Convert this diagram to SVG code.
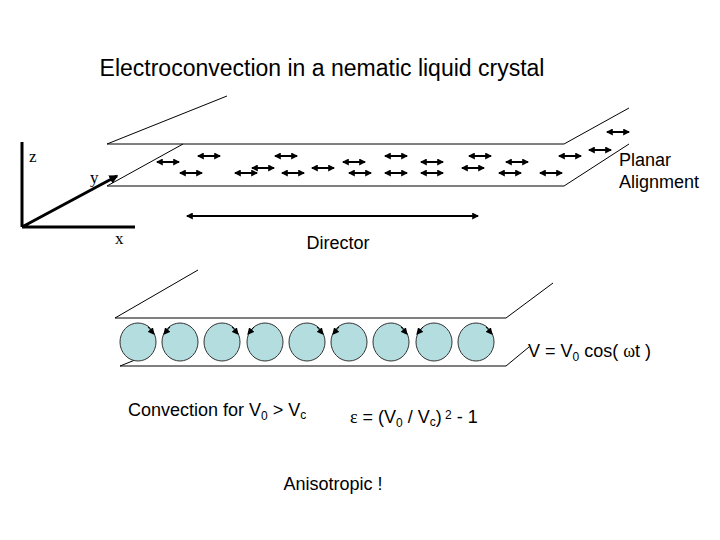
<svg xmlns="http://www.w3.org/2000/svg" width="720" height="540" viewBox="0 0 720 540">
<style>
.l{stroke:#000;stroke-width:1;fill:none}
.a{stroke:#000;stroke-width:2;fill:none;marker-start:url(#h);marker-end:url(#h)}
.t{font-family:"Liberation Sans",Arial,sans-serif;fill:#000;font-size:18px}
.s{font-family:"Liberation Serif",serif;font-size:17px;fill:#000}
.c{fill:#b4dde0;stroke:#333;stroke-width:1}
</style>
<defs>
<marker id="h" viewBox="0 0 6 6" refX="5" refY="3" markerWidth="3.5" markerHeight="3.5" orient="auto-start-reverse"><path d="M0,0L6,3L0,6z" fill="#000"/></marker>
<marker id="m" viewBox="0 0 6 6" refX="5" refY="3" markerWidth="7" markerHeight="7" orient="auto"><path d="M0,0L6,3L0,6z" fill="#000"/></marker>
<marker id="ax" viewBox="0 0 6 6" refX="5" refY="3" markerWidth="3" markerHeight="3" orient="auto"><path d="M0,0L6,3L0,6z" fill="#000"/></marker>
</defs>
<rect width="720" height="540" fill="#fff"/>
<text class="t" x="322" y="76" style="font-size:23px" text-anchor="middle">Electroconvection in a nematic liquid crystal</text>
<g id="axes">
<path d="M22,227V142M22,227H135M22,227L117,176" stroke="#000" stroke-width="3" fill="none" marker-end="url(#ax)"/>
<text class="s" x="29" y="162">z</text><text class="s" x="90" y="183">y</text><text class="s" x="115" y="244">x</text>
</g>
<g id="top-plate">
<path class="l" d="M107,144H564L629,108M107,144L227,96M107,186H564L629,144M107,186L183,144"/>
<g>
<line class="a" x1="157" y1="162" x2="179" y2="162"/><line class="a" x1="198" y1="156" x2="220" y2="156"/>
<line class="a" x1="180" y1="173" x2="202" y2="173"/><line class="a" x1="235" y1="173" x2="257" y2="173"/>
<line class="a" x1="252" y1="168" x2="274" y2="168"/><line class="a" x1="275" y1="156" x2="297" y2="156"/>
<line class="a" x1="282" y1="173" x2="304" y2="173"/><line class="a" x1="312" y1="168" x2="334" y2="168"/>
<line class="a" x1="343" y1="162" x2="365" y2="162"/><line class="a" x1="349" y1="173" x2="371" y2="173"/>
<line class="a" x1="385" y1="156" x2="407" y2="156"/><line class="a" x1="385" y1="173" x2="407" y2="173"/>
<line class="a" x1="421" y1="162" x2="443" y2="162"/><line class="a" x1="421" y1="173" x2="443" y2="173"/>
<line class="a" x1="469" y1="156" x2="491" y2="156"/><line class="a" x1="462" y1="168" x2="484" y2="168"/>
<line class="a" x1="506" y1="162" x2="528" y2="162"/><line class="a" x1="499" y1="173" x2="521" y2="173"/>
<line class="a" x1="559" y1="156" x2="581" y2="156"/><line class="a" x1="540" y1="173" x2="562" y2="173"/>
<line class="a" x1="589" y1="150" x2="611" y2="150"/><line class="a" x1="607" y1="132" x2="629" y2="132"/>
</g>
<text class="t" x="619" y="166">Planar</text>
<text class="t" x="619" y="188">Alignment</text>
</g>
<g id="director">
<line class="a" x1="187" y1="216" x2="478" y2="216"/>
<text class="t" x="338" y="249" text-anchor="middle">Director</text>
</g>
<g id="bottom-plate">
<path class="l" d="M115,318H506L553,283M115,318L198,270M120,366H506L529,347M120,366L135,360"/>
<g>
<ellipse class="c" cx="138" cy="342" rx="18" ry="19"/><ellipse class="c" cx="180" cy="342" rx="18" ry="19"/>
<ellipse class="c" cx="222" cy="342" rx="18" ry="19"/><ellipse class="c" cx="265" cy="342" rx="18" ry="19"/>
<ellipse class="c" cx="307" cy="342" rx="18" ry="19"/><ellipse class="c" cx="349" cy="342" rx="18" ry="19"/>
<ellipse class="c" cx="391" cy="342" rx="18" ry="19"/><ellipse class="c" cx="434" cy="342" rx="18" ry="19"/>
<ellipse class="c" cx="476" cy="342" rx="18" ry="19"/>
</g>
<g stroke="#000" stroke-width="1" fill="none" marker-end="url(#m)">
<path d="M148,327L154,334"/><path d="M232,327L238,334"/><path d="M317,327L323,334"/><path d="M401,327L407,334"/><path d="M486,327L492,334"/>
<path d="M170,327L164,334"/><path d="M254,327L248,334"/><path d="M339,327L333,334"/><path d="M423,327L417,334"/>
</g>
</g>
<text class="t" x="528" y="357">V = V<tspan font-size="12" dy="4">0</tspan><tspan dy="-4"> cos( </tspan><tspan font-family="Liberation Serif">ω</tspan>t )</text>
<text class="t" x="128" y="416">Convection for V<tspan font-size="12" dy="4">0</tspan><tspan dy="-4"> &gt; V</tspan><tspan font-size="12" dy="3">c</tspan></text>
<text class="t" x="350" y="423"><tspan font-family="Liberation Serif">ε</tspan> = (V<tspan font-size="12" dy="4">0</tspan><tspan dy="-4"> / V</tspan><tspan font-size="12" dy="3">c</tspan><tspan dy="-3">)</tspan><tspan font-size="12" dy="-4"> 2</tspan><tspan dy="4"> - 1</tspan></text>
<text class="t" x="333" y="490" text-anchor="middle">Anisotropic !</text>
</svg>
